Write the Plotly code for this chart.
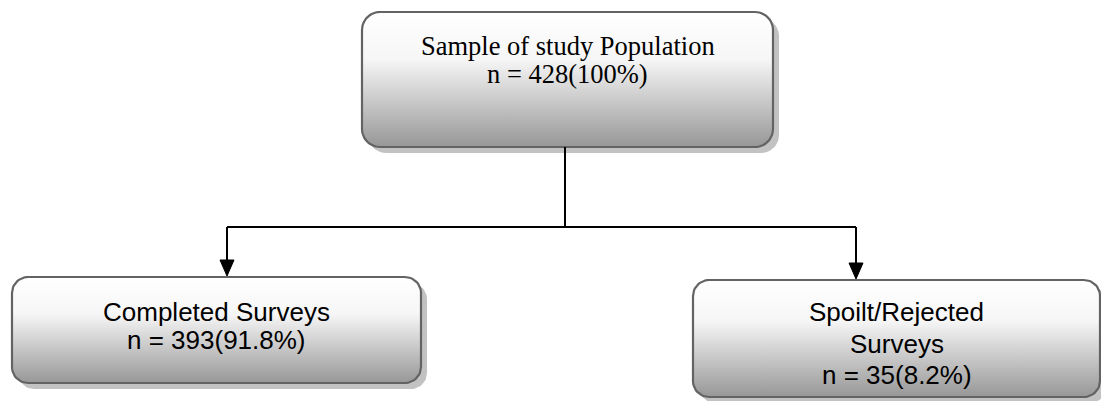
import numpy as np
import plotly.graph_objects as go

# ---- data ----
stage_names = ["Sample of study Population", "Completed Surveys", "Spoilt/Rejected Surveys"]
stage_name_lines = [["Sample of study Population"], ["Completed Surveys"], ["Spoilt/Rejected", "Surveys"]]
counts = [428, 393, 35]
percents = [100, 91.8, 8.2]

# ---- layout (pixel coordinates) ----
W, H = 1101, 401
boxes = [
    dict(x0=362, x1=773, y0=12, y1=147, r=18, font="Liberation Serif", size=26.5, lines_y=[46, 74]),
    dict(x0=12, x1=421, y0=277, y1=383, r=16, font="Liberation Sans", size=26, lines_y=[312, 340]),
    dict(x0=693, x1=1100, y0=280, y1=397, r=16, font="Liberation Sans", size=26, lines_y=[312, 344, 375]),
]
shadow_off = 6


def rrect(x0, x1, y0, y1, r, n=14):
    xs, ys = [], []
    corners = [
        (x1 - r, y0 + r, -np.pi / 2, 0),
        (x1 - r, y1 - r, 0, np.pi / 2),
        (x0 + r, y1 - r, np.pi / 2, np.pi),
        (x0 + r, y0 + r, np.pi, 1.5 * np.pi),
    ]
    for cx, cy, a0, a1 in corners:
        t = np.linspace(a0, a1, n)
        xs.extend(cx + r * np.cos(t))
        ys.extend(cy + r * np.sin(t))
    xs.append(xs[0])
    ys.append(ys[0])
    return xs, ys


fig = go.Figure()

for b in boxes:
    sx, sy = rrect(b["x0"] + shadow_off, b["x1"] + shadow_off, b["y0"] + shadow_off, b["y1"] + shadow_off, b["r"])
    fig.add_trace(go.Scatter(x=sx, y=sy, mode="lines", fill="toself", fillcolor="#c2c2c2",
                             line=dict(width=0, color="#c2c2c2"), hoverinfo="skip", showlegend=False))
    bx, by = rrect(b["x0"], b["x1"], b["y0"], b["y1"], b["r"])
    fig.add_trace(go.Scatter(
        x=bx, y=by, mode="lines", fill="toself",
        fillgradient=dict(type="vertical", start=b["y0"], stop=b["y1"],
                          colorscale=[[0, "#ffffff"], [0.35, "#f6f6f6"], [1, "#979797"]]),
        line=dict(width=2.2, color="#636363"), hoverinfo="skip", showlegend=False))

# text
for i, b in enumerate(boxes):
    lines = stage_name_lines[i] + [f"n = {counts[i]}({percents[i]:g}%)"]
    cx = (b["x0"] + b["x1"]) / 2
    for ln, ly in zip(lines, b["lines_y"]):
        fig.add_annotation(x=cx, y=ly, text=ln, showarrow=False, xanchor="center", yanchor="middle",
                           font=dict(family=b["font"], size=b["size"], color="#000000"))

# connectors
top, left, right = boxes
mid_x = 565
branch_y = 227
left_x = 227
right_x = 856
head_len = 16
head_half = 7
fig.add_shape(type="line", x0=mid_x, x1=mid_x, y0=top["y1"], y1=branch_y, line=dict(color="black", width=2))
fig.add_shape(type="line", x0=left_x, x1=right_x, y0=branch_y, y1=branch_y, line=dict(color="black", width=2))
for ax_x, target in [(left_x, left), (right_x, right)]:
    tip = target["y0"] - 1
    fig.add_shape(type="line", x0=ax_x, x1=ax_x, y0=branch_y, y1=tip - head_len + 1,
                  line=dict(color="black", width=2))
    fig.add_trace(go.Scatter(
        x=[ax_x - head_half, ax_x + head_half, ax_x, ax_x - head_half],
        y=[tip - head_len, tip - head_len, tip, tip - head_len],
        mode="lines", fill="toself", fillcolor="black", line=dict(color="black", width=1),
        hoverinfo="skip", showlegend=False))

fig.update_xaxes(range=[0, W], visible=False, fixedrange=True)
fig.update_yaxes(range=[H, 0], visible=False, fixedrange=True)
fig.update_layout(width=W, height=H, margin=dict(l=0, r=0, t=0, b=0),
                  plot_bgcolor="white", paper_bgcolor="white")

fig.write_html("out.html", config={"displayModeBar": False},
               post_script="document.body.style.margin='0';document.body.style.overflow='hidden';")
